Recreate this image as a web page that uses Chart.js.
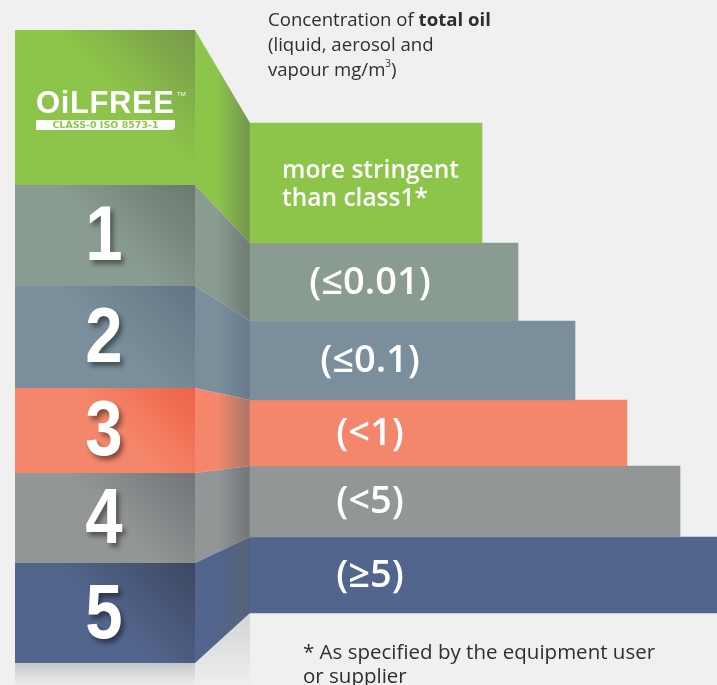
<!DOCTYPE html>
<html>
<head>
<meta charset="utf-8">
<script src="https://cdn.jsdelivr.net/npm/chart.js@4/dist/chart.umd.min.js"></script>
<style>
  html, body { margin: 0; padding: 0; background: #f0f0f0; }
  #wrap { width: 717px; height: 685px; position: relative; }
</style>
</head>
<body>
<div id="wrap"><canvas id="c" width="717" height="685"></canvas></div>
<script>
// ---- data ----
const classLabels = ['0', '1', '2', '3', '4', '5'];
const limitLabels = ['more stringent|than class1*', '(≤0.01)', '(≤0.1)', '(<1)', '(<5)', '(≥5)'];
const barLengths = [232, 268, 325, 377, 430, 467];
const titleLines = ['Concentration of |total oil', '(liquid, aerosol and', 'vapour mg/m|3|)'];
const footnoteLines = ['* As specified by the equipment user', 'or supplier'];

// ---- style / layout ----
const baseColors = ['#8dc54b', '#8a9b91', '#7a8f9b', '#f4876b', '#939697', '#52658c'];
const darkColors = ['#76984c', '#6a7870', '#637585', '#ee6246', '#717476', '#3e4761'];
const sideDark = ['#74944e', '#6e7a74', '#68788a', '#a97566', '#737678', '#566276'];
const barEdges = [123, 243, 321, 400, 466, 537, 613];     // right bars row boundaries (y units)
const blockEdges = [30, 185, 286, 388, 473, 563, 663];    // left blocks row boundaries (y units)
const X_MIN = -250, X_MAX = 467;
const FRONT_L = -235, FRONT_R = -55;                        // front face of the blocks (x units)

const datasets = barLengths.map((len, i) => ({
  label: limitLabels[i],
  data: [{ x: [0, len], y: (barEdges[i] + barEdges[i + 1]) / 2 }],
  backgroundColor: baseColors[i],
  barThickness: barEdges[i + 1] - barEdges[i],
  grouped: false,
  borderWidth: 0,
  borderSkipped: false
}));

const blocksPlugin = {
  id: 'blocks',
  beforeDatasetsDraw(chart) {
    const ctx = chart.ctx, xs = chart.scales.x, ys = chart.scales.y;
    const X = v => xs.getPixelForValue(v), Y = v => ys.getPixelForValue(v);
    const xl = X(FRONT_L), xr = X(FRONT_R), xb = X(0);
    ctx.save();
    ctx.fillStyle = '#f0f0f0';
    ctx.fillRect(0, 0, chart.width, chart.height);
    // shadows below
    const bottom = Y(blockEdges[6]);
    let g = ctx.createLinearGradient(0, bottom, 0, chart.height);
    g.addColorStop(0, '#c5c7c9'); g.addColorStop(1, '#ececec');
    ctx.fillStyle = g; ctx.fillRect(xl, bottom, xr - xl, chart.height - bottom);
    g = ctx.createLinearGradient(0, Y(barEdges[6]), 0, chart.height);
    g.addColorStop(0, '#d3d4d6'); g.addColorStop(1, '#eeeeee');
    ctx.fillStyle = g;
    ctx.beginPath(); ctx.moveTo(xr, bottom); ctx.lineTo(xb, Y(barEdges[6]));
    ctx.lineTo(xb, chart.height); ctx.lineTo(xr, chart.height); ctx.closePath(); ctx.fill();

    for (let i = 0; i < 6; i++) {
      const t = Y(blockEdges[i]), b = Y(blockEdges[i + 1]);
      // front face
      const d = Math.min(70, (b - t) * 0.7);
      g = ctx.createLinearGradient(xr, t, xr - d, t + d);
      g.addColorStop(0, darkColors[i]); g.addColorStop(1, baseColors[i]);
      ctx.fillStyle = baseColors[i];
      ctx.fillRect(xl, t, xr - xl, b - t);
      ctx.fillStyle = g;
      ctx.fillRect(xl, t, xr - xl, b - t);
      // side face
      g = ctx.createLinearGradient(xr, 0, xb, 0);
      g.addColorStop(0, baseColors[i]); g.addColorStop(0.4, baseColors[i]); g.addColorStop(1, sideDark[i]);
      ctx.fillStyle = g;
      ctx.beginPath();
      ctx.moveTo(xr, t); ctx.lineTo(xb, Y(barEdges[i])); ctx.lineTo(xb, Y(barEdges[i + 1])); ctx.lineTo(xr, b);
      ctx.closePath(); ctx.fill();
    }
    ctx.restore();
  },
  afterDatasetsDraw(chart) {
    const ctx = chart.ctx, xs = chart.scales.x, ys = chart.scales.y;
    const X = v => xs.getPixelForValue(v), Y = v => ys.getPixelForValue(v);
    const xl = X(FRONT_L), xr = X(FRONT_R), xb = X(0);
    ctx.save();
    ctx.textBaseline = 'middle';
    // class numbers
    for (let i = 1; i < 6; i++) {
      const t = Y(blockEdges[i]), b = Y(blockEdges[i + 1]);
      ctx.save();
      ctx.translate((xl + xr) / 2 - 1, (t + b) / 2 + 3);
      ctx.scale(0.86, 1);
      ctx.font = 'bold 78px "Liberation Sans", Arial, sans-serif';
      ctx.textAlign = 'center';
      ctx.shadowColor = 'rgba(0,0,0,0.45)';
      ctx.shadowOffsetX = 3; ctx.shadowOffsetY = 4; ctx.shadowBlur = 5;
      ctx.fillStyle = '#ffffff';
      ctx.fillText(classLabels[i], 0, 0);
      ctx.restore();
    }
    // OILFREE logo in class 0 block
    ctx.save();
    ctx.fillStyle = '#ffffff';
    ctx.textAlign = 'left';
    ctx.font = 'bold 31px "Liberation Sans", Arial, sans-serif';
    const logoText = 'OiLFREE';
    let lx = 36;
    const spacing = 0.6;
    for (const ch of logoText) { ctx.fillText(ch, lx, 104); lx += ctx.measureText(ch).width + spacing; }
    ctx.font = '6px "Liberation Sans", Arial, sans-serif';
    ctx.fillText('TM', 177, 94);
    ctx.beginPath();
    ctx.roundRect(36, 120, 139, 10, [0, 0, 4, 0]);
    ctx.fill();
    ctx.fillStyle = '#8dc54b';
    ctx.font = 'bold 9.5px "DejaVu Sans", sans-serif';
    ctx.textAlign = 'center';
    ctx.fillText('CLASS-0 ISO 8573-1', 105.5, 125.5);
    ctx.restore();

    // bar labels
    ctx.fillStyle = '#ffffff';
    for (let i = 0; i < 6; i++) {
      const t = Y(barEdges[i]), b = Y(barEdges[i + 1]);
      const lines = limitLabels[i].split('|');
      if (lines.length > 1) {
        ctx.font = '600 24.5px "Open Sans", sans-serif';
        ctx.textAlign = 'left';
        ctx.fillText(lines[0], xb + 32, t + 48);
        ctx.fillText(lines[1], xb + 32, t + 76);
      } else {
        ctx.font = '600 38px "Open Sans", sans-serif';
        ctx.textAlign = 'center';
        ctx.fillText(lines[0], xb + 120, (t + b) / 2 + 1);
      }
    }
    // title
    ctx.fillStyle = '#2e2e2e';
    ctx.textAlign = 'left';
    const tx = 268;
    const reg = '18.6px "Open Sans", sans-serif', bold = 'bold 18.6px "Open Sans", sans-serif';
    let p = titleLines[0].split('|');
    ctx.font = reg; ctx.fillText(p[0], tx, 21);
    let w = ctx.measureText(p[0]).width;
    ctx.font = bold; ctx.fillText(p[1], tx + w, 21);
    ctx.font = reg; ctx.fillText(titleLines[1], tx, 46);
    p = titleLines[2].split('|');
    ctx.fillText(p[0], tx, 71);
    w = ctx.measureText(p[0]).width;
    ctx.font = '10px "Open Sans", sans-serif'; ctx.fillText(p[1], tx + w, 64);
    const w2 = ctx.measureText(p[1]).width;
    ctx.font = reg; ctx.fillText(p[2], tx + w + w2, 71);
    // footnote
    ctx.font = '20.5px "Open Sans", sans-serif';
    ctx.fillText(footnoteLines[0], 303, 653);
    ctx.fillText(footnoteLines[1], 303, 677);
    ctx.restore();
  }
};

new Chart(document.getElementById('c'), {
  type: 'bar',
  data: { datasets },
  options: {
    indexAxis: 'y',
    responsive: false,
    animation: false,
    events: [],
    layout: { padding: 0 },
    plugins: { legend: { display: false }, tooltip: { enabled: false }, title: { display: false } },
    scales: {
      x: { type: 'linear', min: X_MIN, max: X_MAX, display: false, offset: false },
      y: { type: 'linear', min: 0, max: 685, reverse: true, display: false, offset: false }
    }
  },
  plugins: [blocksPlugin]
});
</script>
</body>
</html>
